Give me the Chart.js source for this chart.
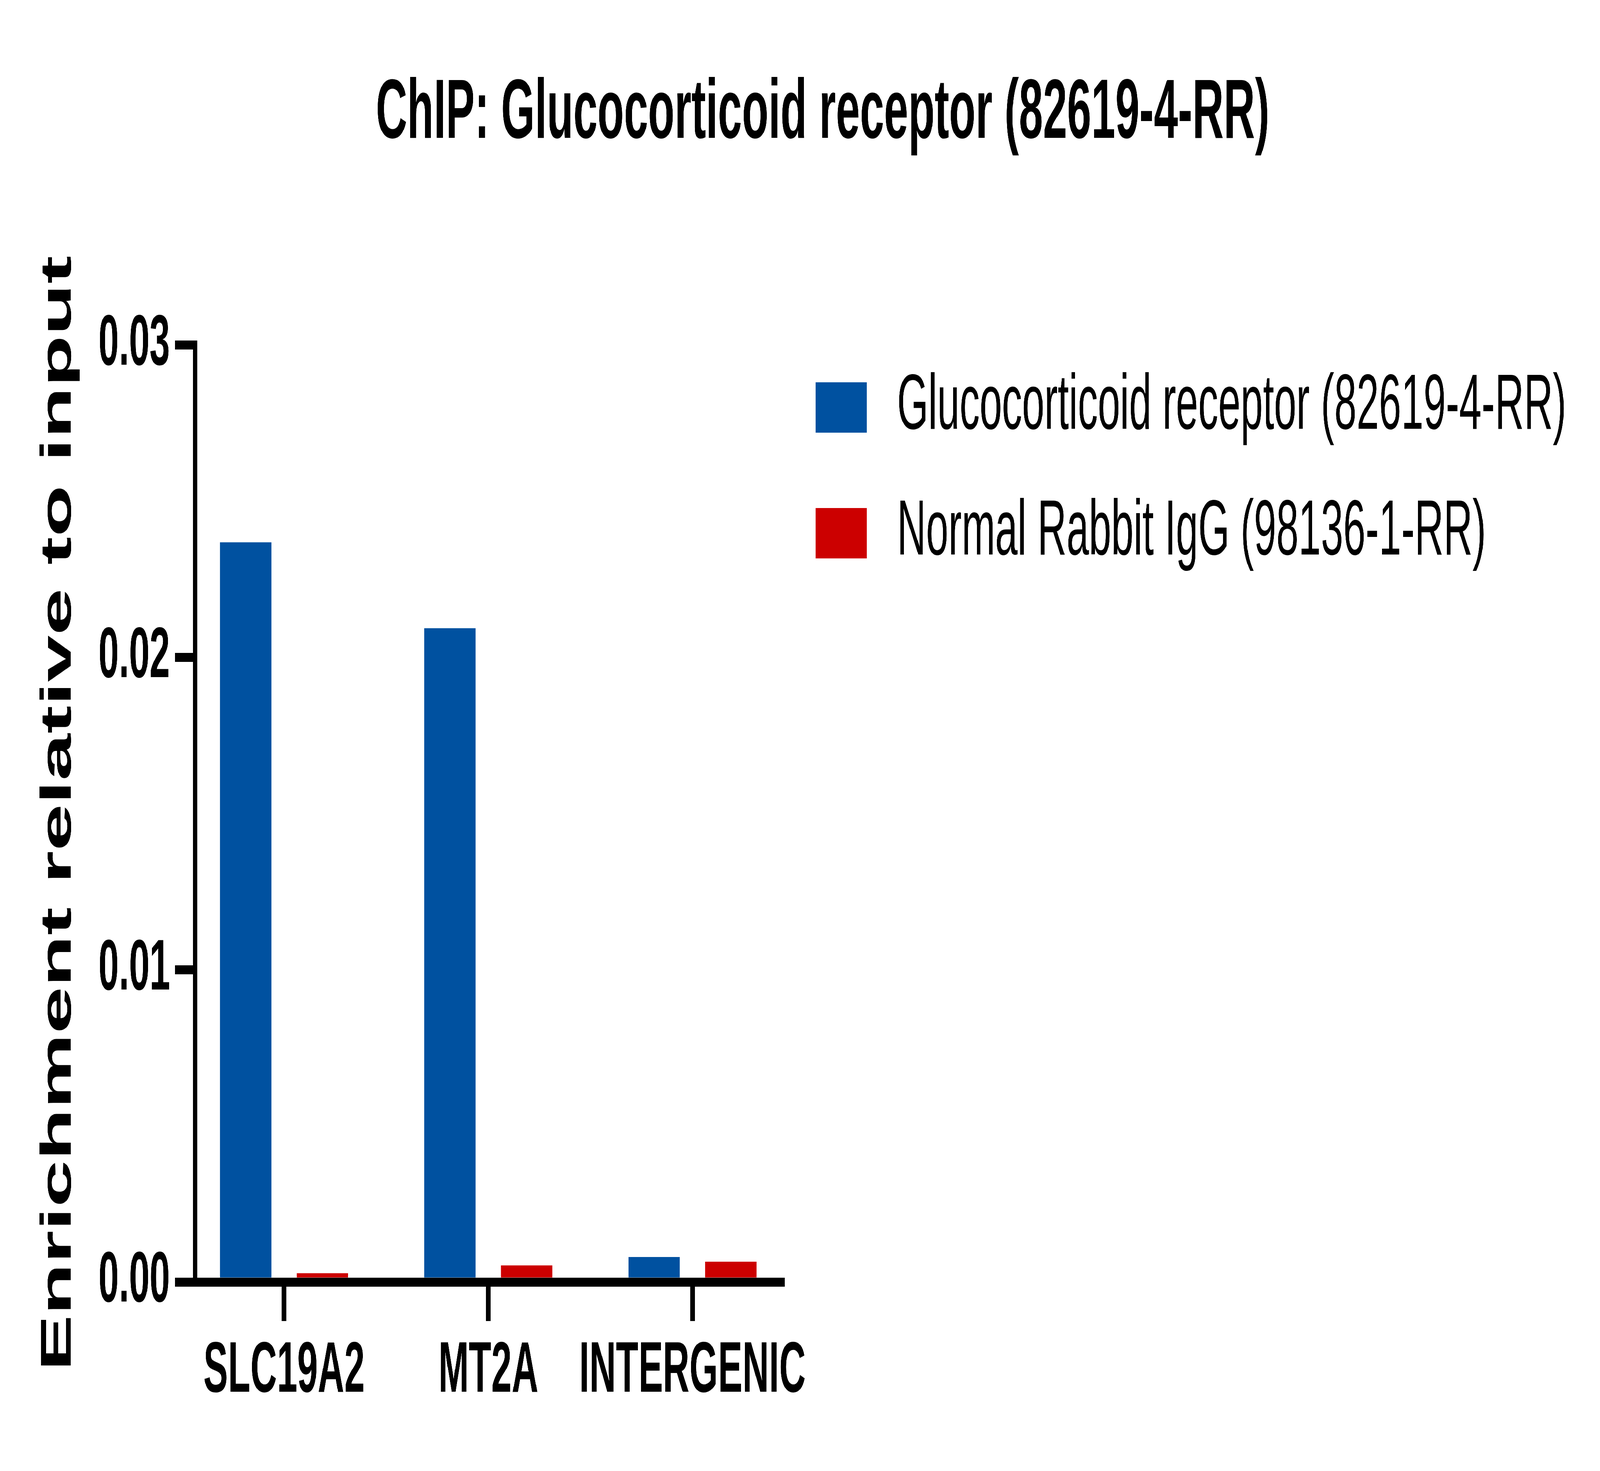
<!DOCTYPE html>
<html>
<head>
<meta charset="utf-8">
<script src="https://cdn.jsdelivr.net/npm/chart.js@4.4.1/dist/chart.umd.min.js"></script>
<style>
html,body{margin:0;padding:0;background:#ffffff;overflow:hidden;width:100vw;height:100vh}
#wrap{position:fixed;left:0;top:0;width:7974px;height:3767px;transform-origin:0 0;background:#ffffff}
canvas{display:block}
</style>
</head>
<body>
<div id="wrap"><canvas id="c" width="7974" height="3767" style="width:7974px;height:3767px"></canvas></div>
<script>
// ---- data ----
const chartTitle = 'ChIP: Glucocorticoid receptor (82619-4-RR)';
const yAxisTitle = 'Enrichment relative to input';
const categories = ['SLC19A2', 'MT2A', 'INTERGENIC'];
const seriesNames = ['Glucocorticoid receptor (82619-4-RR)', 'Normal Rabbit IgG (98136-1-RR)'];
const glucocorticoidValues = [0.02368, 0.02093, 0.00080];
const igGValues = [0.00028, 0.00053, 0.00065];
const yTickValues = [0, 0.01, 0.02, 0.03];
const yTickLabels = ['0.00', '0.01', '0.02', '0.03'];

// ---- fit the 7974 x 3767 drawing to the window ----
const REF_W = 7974, REF_H = 3767;
const wrap = document.getElementById('wrap');
function fitToWindow() {
  const kx = window.innerWidth / REF_W;
  const ky = window.innerHeight / REF_H;
  wrap.style.transform = 'scale(' + kx + ',' + ky + ')';
}
fitToWindow();
window.addEventListener('resize', fitToWindow);

// ---- style ----
const FONT = "'Liberation Sans', Arial, Helvetica, sans-serif";
const BLUE = '#0051A0';
const RED = '#CC0000';
const INK = '#000000';
const TITLE_CENTER_X = 4100;
const LEGEND_TOP = 821;

function legendSwatch(color) {
  const c = document.createElement('canvas');
  c.width = 350; c.height = 129;
  const g = c.getContext('2d');
  g.fillStyle = color;
  g.fillRect(43, 0, 256, 129);
  return c;
}

const placeBlocks = {
  id: 'placeBlocks',
  afterLayout(chart) {
    const t = chart.titleBlock;
    if (t) {
      const half = Math.min(TITLE_CENTER_X - t.left, t.right - TITLE_CENTER_X);
      t.left = TITLE_CENTER_X - half;
      t.right = TITLE_CENTER_X + half;
      t.width = 2 * half;
    }
    const l = chart.legend;
    if (l) {
      const h = l.height;
      l.top = LEGEND_TOP;
      l.bottom = LEGEND_TOP + h;
      l.right = l.left + l.width + 160;
      l.width = l.right - l.left;
    }
  }
};

const axisGrid = { display: true, drawOnChartArea: false, drawTicks: true, tickLength: 100, lineWidth: 23, color: INK, offset: false };
const axisBorder = { display: true, width: 23, color: INK, z: 1 };

new Chart(document.getElementById('c'), {
  type: 'bar',
  data: {
    datasets: [
      { label: seriesNames[0], data: glucocorticoidValues.map((v, i) => ({ x: i, y: v })), backgroundColor: BLUE, pointStyle: legendSwatch(BLUE) },
      { label: seriesNames[1], data: igGValues.map((v, i) => ({ x: i, y: v })), backgroundColor: RED, pointStyle: legendSwatch(RED) }
    ]
  },
  options: {
    responsive: false,
    devicePixelRatio: 1,
    animation: false,
    layout: { padding: { left: 0, right: 169, top: 0, bottom: 0 } },
    datasets: { bar: { categoryPercentage: 0.75, barPercentage: 0.67 } },
    scales: {
      x: {
        type: 'linear', min: -0.4361, max: 2.4401, offset: false,
        afterBuildTicks: s => { s.ticks = categories.map((_, i) => ({ value: i })); },
        afterFit: s => { s.height = 484; },
        grid: axisGrid,
        border: axisBorder,
        ticks: { padding: 21, color: INK, maxRotation: 0, minRotation: 0, autoSkip: false,
                 font: { family: FONT, size: 183, weight: 'bold' },
                 callback: v => categories[v] }
      },
      y: {
        type: 'linear', min: 0, max: 0.03,
        afterBuildTicks: s => { s.ticks = yTickValues.map(v => ({ value: v })); },
        afterFit: s => { s.width = 972; },
        grid: axisGrid,
        border: axisBorder,
        ticks: { padding: 25, color: INK, font: { family: FONT, size: 183, weight: 'bold' },
                 callback: (v, i) => yTickLabels[i] },
        title: { display: true, text: yAxisTitle, color: INK, font: { family: FONT, size: 216, weight: 'bold' }, padding: { top: 164, bottom: 0 } }
      }
    },
    plugins: {
      title: { display: true, text: chartTitle, color: INK, font: { family: FONT, size: 216, weight: 'bold' }, padding: { top: 164, bottom: 460 } },
      legend: {
        position: 'right', align: 'start', fullSize: false, maxWidth: 3906,
        labels: { usePointStyle: true, pointStyleWidth: 350, boxHeight: 129, padding: 122, color: INK,
                  font: { family: FONT, size: 200 } }
      },
      tooltip: { enabled: false }
    }
  },
  plugins: [placeBlocks]
});
</script>
</body>
</html>
